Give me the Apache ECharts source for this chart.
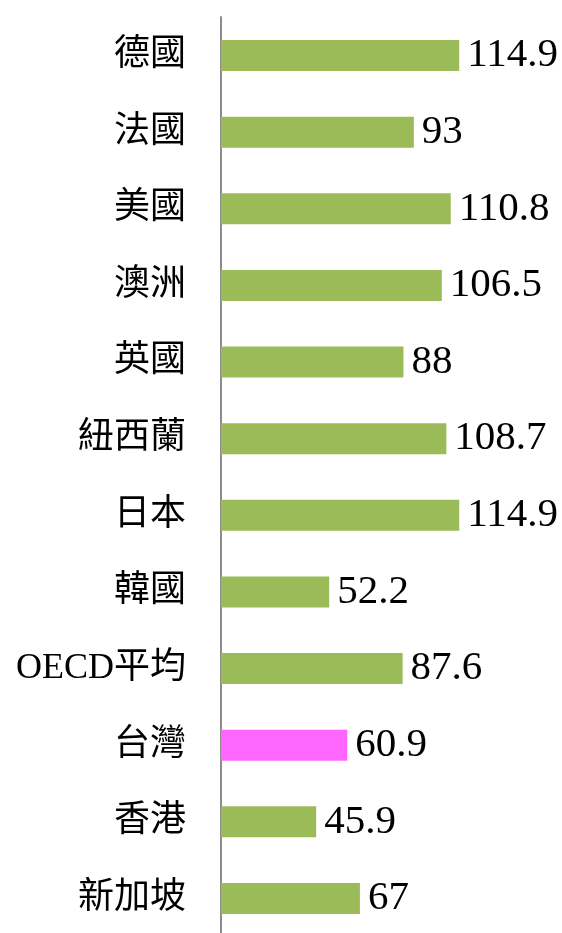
<!DOCTYPE html>
<html>
<head>
<meta charset="utf-8">
<script src="https://cdn.jsdelivr.net/npm/echarts@6/dist/echarts.min.js"></script>
<style>
	html, body { margin: 0; padding: 0; background: #fff; }
	#chart { width: 562px; height: 933px; }
</style>
</head>
<body>
<div id="chart"></div>
<script>
	const countries = ['德國', '法國', '美國', '澳洲', '英國', '紐西蘭', '日本', '韓國', 'OECD平均', '台灣', '香港', '新加坡']
	const values = [114.9, 93, 110.8, 106.5, 88, 108.7, 114.9, 52.2, 87.6, 60.9, 45.9, 67]
	const highlight = '台灣'

	const barColor = '#9BBB59'
	const highlightColor = '#FF66FF'

	let chart = echarts.init(document.getElementById('chart'))

	const option = {
		animation: false,
		grid: [
			// 柱子所在区域（首尾类目落在边上）
			{ left: 221, top: 55.5, width: 311, height: 843 },
			// 只画左侧竖线
			{ left: 221, top: 17, width: 311, bottom: 0 }
		],
		xAxis: [
			{ gridIndex: 0, type: 'value', min: 0, max: 150, show: false },
			{ gridIndex: 1, type: 'value', min: 0, max: 150, show: false }
		],
		yAxis: [
			{
				gridIndex: 0,
				type: 'category',
				data: countries,
				inverse: true,
				boundaryGap: false,
				axisLine: { show: false },
				axisTick: { show: false },
				splitLine: { show: false },
				axisLabel: {
					margin: 35,
					padding: [8, 0, 0, 0],
					color: '#000',
					fontSize: 36,
					fontFamily: '"Liberation Serif", "Noto Sans CJK TC", serif'
				}
			},
			{
				gridIndex: 1,
				type: 'value',
				axisLine: {
					show: true,
					lineStyle: { color: '#8c8c8c', width: 2 }
				},
				axisTick: { show: false },
				axisLabel: { show: false },
				splitLine: { show: false }
			}
		],
		series: [
			{
				type: 'bar',
				xAxisIndex: 0,
				yAxisIndex: 0,
				barWidth: 31,
				data: values.map((v, i) => ({
					value: v,
					itemStyle: { color: countries[i] === highlight ? highlightColor : barColor }
				})),
				label: {
					show: true,
					position: 'right',
					distance: 8,
					padding: [4, 0, 0, 0],
					color: '#000',
					fontSize: 41,
					fontFamily: '"Liberation Serif", serif'
				}
			}
		]
	}

	chart.setOption(option)
	window.onresize = () => {
		chart.resize()
	}
</script>
</body>
</html>
